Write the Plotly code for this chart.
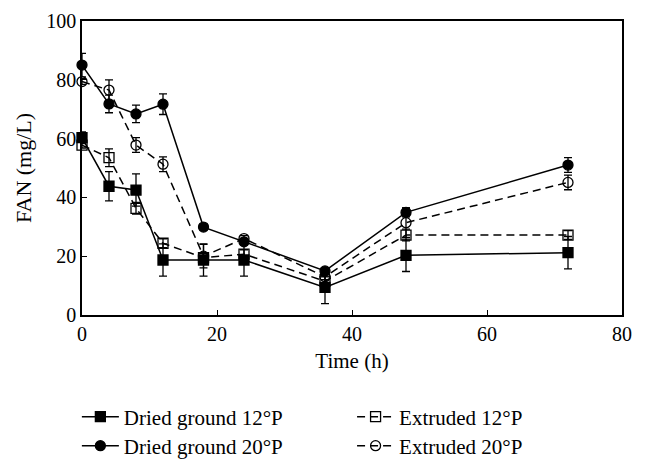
import plotly.graph_objects as go

time_h = [0, 4, 8, 12, 18, 24, 36, 48, 72]

dried_12 = [60.3, 43.8, 42.5, 18.7, 18.7, 18.7, 9.4, 20.3, 21.2]
dried_12_err = [2.0, 5.0, 5.5, 5.5, 5.5, 5.5, 5.5, 5.5, 5.5]

dried_20 = [85.0, 71.8, 68.4, 71.7, 29.9, 24.9, 15.0, 34.9, 51.0]
dried_20_err = [4.0, 3.0, 3.0, 3.5, 1.0, 1.0, 1.0, 1.5, 2.5]

extr_12 = [57.8, 53.5, 36.3, 24.4, 19.5, 20.7, 11.5, 27.2, 27.2]
extr_12_err = [1.0, 3.0, 2.0, 1.5, 1.5, 1.5, 1.5, 2.0, 1.5]

extr_20 = [79.4, 76.5, 57.8, 51.3, 20.0, 26.0, 13.0, 31.4, 45.1]
extr_20_err = [1.0, 3.5, 2.5, 2.5, 4.0, 1.0, 1.0, 5.0, 2.5]

series = [
    ("Dried ground 12\u00b0P", dried_12, dried_12_err, "square", "solid", "legend"),
    ("Extruded 12\u00b0P", extr_12, extr_12_err, "square-open", "8px,5px", "legend2"),
    ("Dried ground 20\u00b0P", dried_20, dried_20_err, "circle", "solid", "legend3"),
    ("Extruded 20\u00b0P", extr_20, extr_20_err, "circle-open", "8px,5px", "legend4"),
]

fig = go.Figure()
for name, vals, errs, sym, dash, leg in series:
    fig.add_trace(go.Scatter(
        x=time_h, y=vals, name=name, mode="lines+markers", legend=leg,
        line=dict(color="black", width=1.5, dash=dash),
        marker=dict(symbol=sym, size=10, color="black", line=dict(color="black", width=1.3)),
        error_y=dict(type="data", array=errs, visible=True, color="black", thickness=1.3, width=4),
        cliponaxis=False,
    ))

font_family = "Liberation Serif, Times New Roman, serif"


def leg(x, y):
    return dict(
        orientation="h", x=x, y=y, xref="container", yref="container",
        xanchor="left", yanchor="middle", bgcolor="rgba(0,0,0,0)",
        font=dict(size=21, family=font_family), itemwidth=37,
    )


fig.update_layout(
    width=646, height=471,
    margin=dict(l=82, r=24, t=21, b=156, autoexpand=False),
    plot_bgcolor="white", paper_bgcolor="white",
    font=dict(family=font_family, size=20, color="black"),
    showlegend=True,
    legend=leg(0.119, 1 - 417 / 471),
    legend2=leg(0.545, 1 - 417 / 471),
    legend3=leg(0.119, 1 - 446 / 471),
    legend4=leg(0.545, 1 - 446 / 471),
    xaxis=dict(
        range=[0, 80], tickvals=[0, 20, 40, 60, 80], ticks="inside", ticklen=5,
        showline=True, linecolor="black", linewidth=1.5, mirror=True,
        showgrid=False, zeroline=False, tickcolor="black",
        title=dict(text="Time (h)", standoff=10, font=dict(size=21)),
        tickfont=dict(size=20),
    ),
    yaxis=dict(
        range=[0, 100], tickvals=[0, 20, 40, 60, 80, 100], ticks="inside", ticklen=5,
        showline=True, linecolor="black", linewidth=1.5, mirror=True,
        showgrid=False, zeroline=False, tickcolor="black",
        title=dict(text="FAN (mg/L)", standoff=9, font=dict(size=22)),
        tickfont=dict(size=20),
    ),
)

fig.write_html("out.html")
